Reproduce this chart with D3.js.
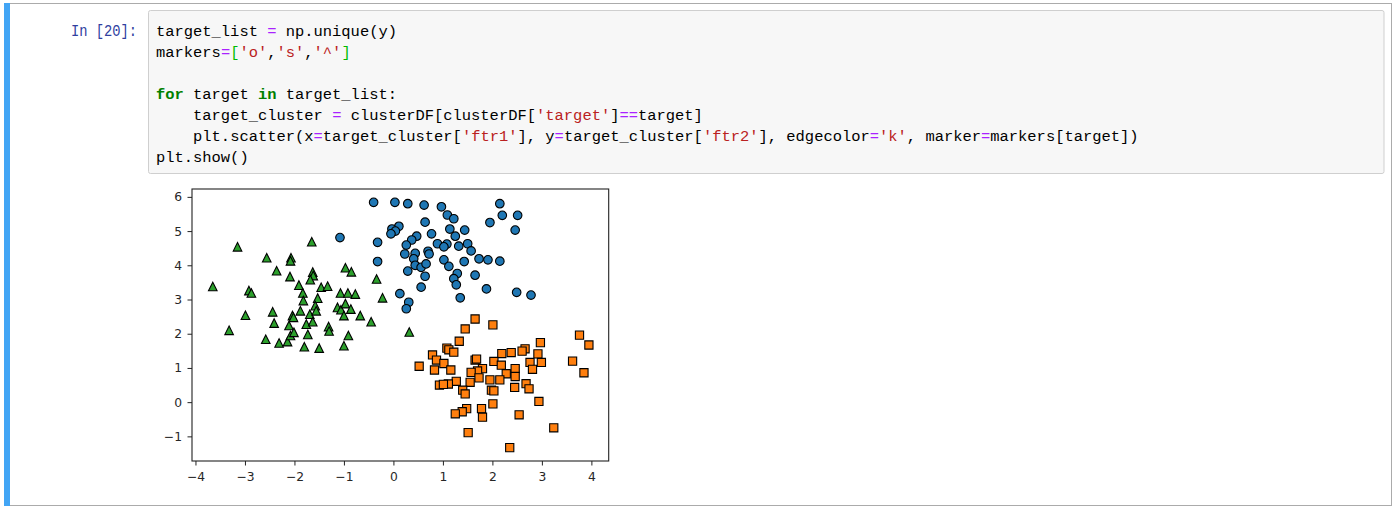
<!DOCTYPE html>
<html><head><meta charset="utf-8">
<script src="https://cdn.jsdelivr.net/npm/d3@7"></script>
<style>html,body{margin:0;padding:0;background:#fff;overflow:hidden}</style>
</head><body><svg id="page" width="1398" height="509"></svg>
<script>
// ---- data ----
const markers = ['o', 's', '^'];
const seriesColors = ['#1f77b4', '#ff7f0e', '#2ca02c'];

// target 0 : circles
const cluster0X = [-1.08,-0.40,0.03,0.29,0.62,0.97,1.09,1.22,0.64,0.11,-0.03,0.04,-0.05,0.77,1.14,1.44,1.25,0.47,0.37,-0.32,0.26,0.89,1.08,1.02,1.32,1.50,1.57,0.23,0.44,0.70,0.72,0.41,-0.32,0.44,0.56,0.66,1.02,1.12,1.43,1.73,1.91,2.15,0.29,0.64,1.29,1.22,1.27,1.65,0.56,1.88,2.49,2.78,0.13,1.35,0.31,0.26,2.15,2.20,2.51,1.95,2.46];
const cluster0Y = [4.81,5.84,5.84,5.80,5.76,5.71,5.47,5.36,5.26,5.14,5.06,5.00,4.92,4.92,5.06,5.03,4.85,4.85,4.74,4.67,4.59,4.63,4.62,4.54,4.56,4.63,4.42,4.33,4.35,4.41,4.33,4.19,4.11,4.00,3.94,4.04,4.16,3.97,4.11,4.19,4.16,4.12,3.83,3.68,3.76,3.61,3.43,3.71,3.36,3.31,3.21,3.13,3.17,3.05,2.92,2.73,5.80,5.46,5.46,5.25,5.03];

// target 1 : squares
const cluster1X = [1.65,2.01,1.45,1.33,3.76,3.95,2.97,2.66,2.60,2.92,1.08,1.12,1.22,0.79,0.87,0.52,0.83,1.02,1.16,1.65,1.68,2.19,2.38,2.03,2.18,2.76,2.99,2.81,3.62,3.85,2.46,2.46,2.28,1.80,1.70,1.57,1.73,1.55,1.95,2.15,1.27,1.11,0.93,1.01,1.40,1.45,1.98,2.03,2.45,2.68,2.74,2.94,2.01,1.48,1.39,1.25,1.78,1.80,2.54,3.24,1.51,2.35];
const cluster1Y = [2.43,2.26,2.14,1.78,1.96,1.67,1.74,1.56,1.49,1.41,1.58,1.53,1.46,1.38,1.23,1.05,0.94,1.13,0.94,1.23,1.26,1.42,1.45,1.19,1.08,1.16,1.16,0.96,1.20,0.86,0.98,0.75,0.83,0.98,0.91,0.87,0.71,0.58,0.65,0.65,0.61,0.53,0.50,0.52,0.35,0.24,0.35,0.33,0.43,0.54,0.39,0.02,-0.05,-0.19,-0.28,-0.34,-0.19,-0.44,-0.37,-0.75,-0.89,-1.33];

// target 2 : triangles
const cluster2X = [-3.15,-1.65,-2.56,-2.07,-2.08,-2.36,-2.09,-1.63,-1.62,-1.68,-0.97,-0.85,-0.34,-0.22,-3.65,-2.92,-2.87,-1.91,-1.46,-1.33,-1.83,-1.82,-1.53,-1.58,-1.07,-0.92,-0.77,-2.99,-2.44,-2.41,-2.04,-2.02,-1.88,-1.69,-1.56,-2.11,-1.76,-1.63,-1.31,-1.30,-1.13,-1.06,-0.97,-1.00,-0.86,-0.67,-0.45,-3.32,-2.58,-2.31,-2.14,-2.08,-2.01,-1.73,-1.80,-1.50,-0.91,-1.00,0.32];
const cluster2Y = [4.54,4.69,4.22,4.22,4.13,3.84,3.67,3.80,3.70,3.58,3.93,3.81,3.60,3.05,3.38,3.26,3.19,3.42,3.36,3.39,3.19,2.97,3.04,2.82,3.19,3.19,3.16,2.54,2.64,2.31,2.53,2.48,2.67,2.57,2.67,2.24,2.28,2.35,2.21,2.08,2.77,2.70,2.88,2.53,2.72,2.53,2.35,2.10,1.84,1.73,1.77,1.95,2.04,1.98,1.62,1.58,1.95,1.65,2.05];

const xTicks = [-4,-3,-2,-1,0,1,2,3,4];
const yTicks = [-1,0,1,2,3,4,5,6];

const promptText = 'In [20]:';
// code lines as token lists: [text, kind]
const codeLines = [
  [['target_list ','n'],['=','o'],[' np.unique(y)','n']],
  [['markers','n'],['=','o'],['[','b'],["'o'",'s'],[',','n'],["'s'",'s'],[',','n'],["'^'",'s'],[']','b']],
  [],
  [['for','k'],[' target ','n'],['in','k'],[' target_list:','n']],
  [['    target_cluster ','n'],['=','o'],[' clusterDF[clusterDF[','n'],["'target'",'s'],[']','n'],['==','o'],['target]','n']],
  [['    plt.scatter(x','n'],['=','o'],['target_cluster[','n'],["'ftr1'",'s'],['], y','n'],['=','o'],['target_cluster[','n'],["'ftr2'",'s'],['], edgecolor','n'],['=','o'],["'k'",'s'],[', marker','n'],['=','o'],['markers[target])','n']],
  [['plt.show()','n']]
];

// ---- page ----
const svg = d3.select('#page');
const tokColor = {n:'#000', o:'#AA22FF', s:'#BA2121', k:'#008000', b:'#00bb00'};
const monoFont = 'Liberation Mono, DejaVu Sans Mono, monospace';

// cell border + selection bar
svg.append('rect').attr('x',4.5).attr('y',3.5).attr('width',1387).attr('height',502)
   .attr('fill','#fff').attr('stroke','#ababab').attr('stroke-width',1);
svg.append('rect').attr('x',4).attr('y',3).attr('width',6).attr('height',503).attr('fill','#42A5F5');

// input area
svg.append('rect').attr('x',148.5).attr('y',10.5).attr('width',1235.5).attr('height',163)
   .attr('rx',2).attr('fill','#f7f7f7').attr('stroke','#cfcfcf').attr('stroke-width',1);

svg.append('text').attr('x',71).attr('y',35.5).attr('textLength',66).attr('lengthAdjust','spacingAndGlyphs')
   .attr('font-family',monoFont).attr('font-size',16).attr('fill','#303F9F')
   .text(promptText);

// Liberation Mono advance = 0.6em -> 15.45px gives 9.27px per column
const charW = 9.27, codeX = 156, lineH = 21, base0 = 35.5;
const codeG = svg.append('g').attr('font-family',monoFont).attr('font-size',15.45);
codeLines.forEach((toks, li) => {
  if (!toks.length) return;
  const line = codeG.append('text').attr('y', base0 + li*lineH)
    .attr('xml:space','preserve').style('white-space','pre');
  let col = 0;
  toks.forEach(([t, kind]) => {
    // strip leading/trailing spaces from the drawn token, keep the column position
    const lead = t.length - t.trimStart().length;
    const body = t.trim();
    const sp = line.append('tspan').attr('x', codeX + (col + lead)*charW)
      .attr('fill', tokColor[kind]).text(body);
    if (kind === 'k') sp.attr('font-weight','bold');
    col += t.length;
  });
});

// ---- chart ----
const L = 192, R = 608.7, T = 189, B = 461;
const x = d3.scaleLinear().domain([-4.07, 4.35]).range([L, R]);
const y = d3.scaleLinear().domain([-1.72, 6.23]).range([B, T]);

const plot = svg.append('g');
const sym = {
  'o': r => `M${r},0A${r},${r},0,1,1,${-r},0A${r},${r},0,1,1,${r},0Z`,
  's': r => `M${-r},${-r}H${r}V${r}H${-r}Z`,
  '^': r => `M0,${-r}L${r},${r}L${-r},${r}Z`
};
const sizes = {'o':4.3, 's':4.1, '^':4.3};
const series = [[cluster0X, cluster0Y], [cluster1X, cluster1Y], [cluster2X, cluster2Y]];
series.forEach(([xs, ys], i) => {
  const m = markers[i];
  plot.append('g').selectAll('path').data(xs.map((v, j) => [v, ys[j]])).join('path')
    .attr('transform', d => `translate(${x(d[0])},${y(d[1])})`)
    .attr('d', sym[m](sizes[m]))
    .attr('fill', seriesColors[i]).attr('stroke', '#000').attr('stroke-width', 1.1);
});

// axes
const xAxis = svg.append('g').attr('transform', `translate(0,${B})`)
  .call(d3.axisBottom(x).tickValues(xTicks).tickSize(4.5).tickPadding(6.5));
const yAxis = svg.append('g').attr('transform', `translate(${L},0)`)
  .call(d3.axisLeft(y).tickValues(yTicks).tickSize(4.5).tickPadding(5.5));
[xAxis, yAxis].forEach(a => {
  a.select('.domain').remove();
  a.selectAll('line').attr('stroke', '#222').attr('stroke-width', 1);
  a.selectAll('text').attr('font-family', 'DejaVu Sans, sans-serif').attr('font-size', 12.3).attr('fill', '#262626');
});
svg.append('rect').attr('x', L).attr('y', T).attr('width', R - L).attr('height', B - T)
  .attr('fill', 'none').attr('stroke', '#222').attr('stroke-width', 1.1);
</script></body></html>
